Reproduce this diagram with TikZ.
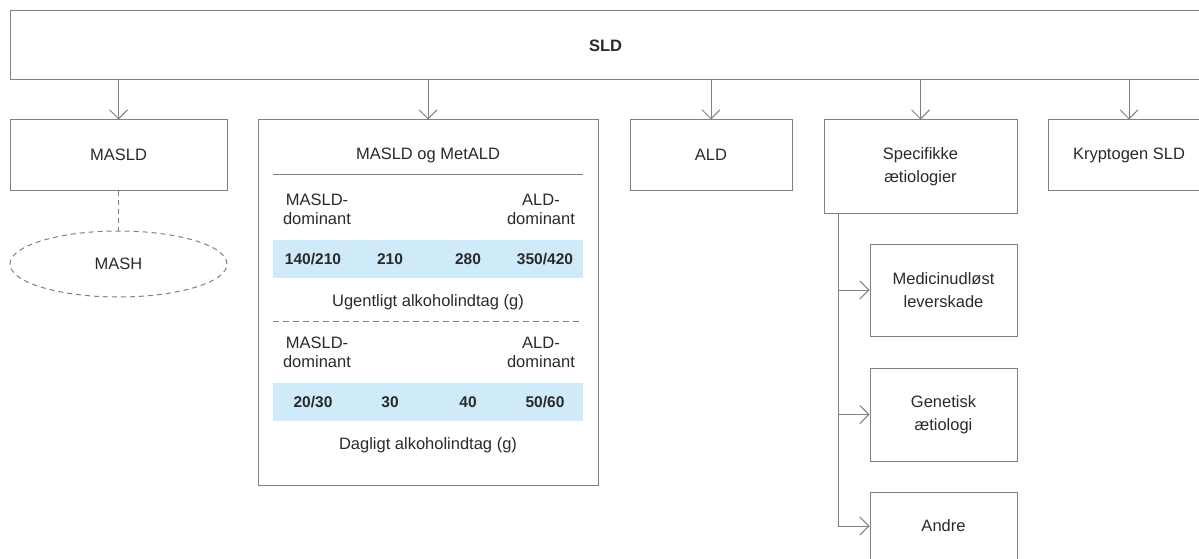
\documentclass[tikz,border=0pt]{standalone}
\usepackage{fontspec}
\setmainfont{Liberation Sans}
\usetikzlibrary{arrows.meta,shapes.geometric}
\definecolor{lg}{HTML}{808080}
\definecolor{tx}{HTML}{2A2A2A}
\definecolor{barblue}{HTML}{CFEAF8}
\begin{document}
\begin{tikzpicture}[x=1pt,y=-1pt,
  every node/.style={text=tx},
  box/.style={draw=lg, line width=1pt, inner sep=0pt, align=center, font=\fontsize{16.5}{23}\selectfont},
  txt/.style={inner sep=0pt, align=center, font=\fontsize{16.5}{19}\selectfont},
  num/.style={inner sep=0pt, font=\bfseries\fontsize{15.5}{18}\selectfont},
  bar/.style={fill=barblue, inner sep=0pt, minimum width=310pt, minimum height=38pt},
  arr/.style={draw=lg, line width=1pt, -{Straight Barb[length=9pt,width=18pt,line width=1pt]}},
  conn/.style={draw=lg, line width=1pt},
  rule/.style={draw=lg, line width=0.9pt}]
\useasboundingbox (0,0) rectangle (1199,559);
\clip (0,0) rectangle (1199,559);

% top box
\node[box, minimum width=1191pt, minimum height=69pt, font=\bfseries\fontsize{16.5}{20}\selectfont] (sld) at (605.5,45.5) {SLD};

% second row
\node[box, minimum width=217pt, minimum height=70pt] (masld) at (118.5,155) {MASLD};
\node[box, minimum width=340pt, minimum height=365pt] (metald) at (428,302.5) {};
\node[box, minimum width=162pt, minimum height=70pt] (ald) at (711,155) {ALD};
\node[box, minimum width=193pt, minimum height=93pt] (spec) at (920.5,166.5) {Specifikke\\ætiologier};
\node[box, minimum width=162pt, minimum height=70pt] (krypt) at (1129,155) {Kryptogen SLD};

% MASH
\node[ellipse, draw=lg, line width=1pt, dash pattern=on 5pt off 4pt, inner sep=0pt,
      minimum width=217pt, minimum height=66pt, font=\fontsize{16.5}{20}\selectfont] (mash) at (118.5,264) {MASH};

% specific aetiologies
\node[box, minimum width=147pt, minimum height=92pt] (med) at (943.5,290) {Medicinudløst\\leverskade};
\node[box, minimum width=147pt, minimum height=93pt] (gen) at (943.5,414.5) {Genetisk\\ætiologi};
\node[box, minimum width=147pt, minimum height=68pt] (andre) at (943.5,526) {Andre};

% inside MASLD og MetALD
\node[txt, anchor=base] (title) at (428,160) {MASLD og MetALD};
\coordinate (r1l) at (273,174);
\coordinate (r1r) at (583,174);
\draw[rule] (r1l) -- (r1r);

\node[txt] (l1) at (317,209.5) {MASLD-\\dominant};
\node[txt] (r1) at (541,209.5) {ALD-\\dominant};
\node[bar] (bar1) at (428,259) {};
\node[num] (n11) at (313,259.5) {140/210};
\node[num] (n12) at (390,259.5) {210};
\node[num] (n13) at (468,259.5) {280};
\node[num] (n14) at (545,259.5) {350/420};
\node[txt, anchor=base] (week) at (428,306) {Ugentligt alkoholindtag (g)};

\coordinate (d1l) at (273,321);
\coordinate (d1r) at (583,321);
\draw[rule, dash pattern=on 6pt off 4pt] (d1l) -- (d1r);

\node[txt] (l2) at (317,352) {MASLD-\\dominant};
\node[txt] (r2) at (541,352) {ALD-\\dominant};
\node[bar] (bar2) at (428,401.5) {};
\node[num] (n21) at (313,402) {20/30};
\node[num] (n22) at (390,402) {30};
\node[num] (n23) at (468,402) {40};
\node[num] (n24) at (545,402) {50/60};
\node[txt, anchor=base] (day) at (428,449) {Dagligt alkoholindtag (g)};

% connectors
\draw[arr] (sld.south -| masld.north) -- (masld.north);
\draw[arr] (sld.south -| metald.north) -- (metald.north);
\draw[arr] (sld.south -| ald.north) -- (ald.north);
\draw[arr] (sld.south -| spec.north) -- (spec.north);
\draw[arr] (sld.south -| krypt.north) -- (krypt.north);
\draw[conn, dash pattern=on 5pt off 4pt] (masld.south) -- (mash.north);

\coordinate (trunk) at ([xshift=15pt]spec.south west);
\draw[arr] (trunk) |- (med.west);
\draw[arr] (trunk) |- (gen.west);
\draw[arr] (trunk) |- (andre.west);
\end{tikzpicture}
\end{document}
